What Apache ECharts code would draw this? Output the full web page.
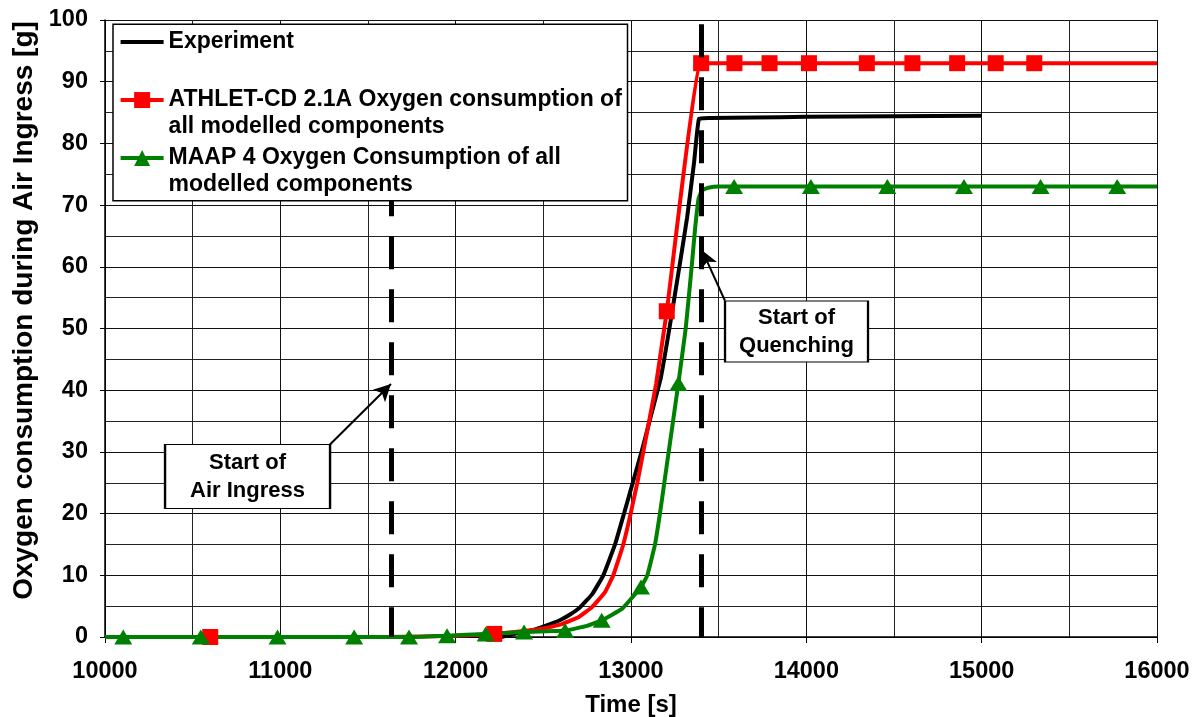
<!DOCTYPE html>
<html>
<head>
<meta charset="utf-8">
<title>Oxygen consumption during Air Ingress</title>
<script src="https://cdn.jsdelivr.net/npm/echarts@6.0.0/dist/echarts.min.js"></script>
<style>
	body { margin: 0; background: #fff; }
	#chart { width: 1196px; height: 717px; }
</style>
</head>
<body>
<div id="chart"></div>
<script>
var fontName = '"Liberation Sans", Arial, sans-serif'

var seriesNames = [
	'Experiment',
	'ATHLET-CD 2.1A Oxygen consumption of\nall modelled components',
	'MAAP 4 Oxygen Consumption of all\nmodelled components',
]

// experiment (black)
var experimentTime = [11640, 11665, 11750, 12000, 12130, 12200, 12260, 12350, 12450, 12550, 12600, 12650, 12709, 12780, 12842, 12909, 12960, 13010, 13060, 13115, 13170, 13219, 13276, 13320, 13360, 13388, 13450, 13700, 14000, 14500, 15000]
var experimentValue = [0, -1.3, -1.2, -1.1, -1.0, -0.5, 0, 0.6, 1.2, 2.2, 2.8, 3.6, 4.8, 7.0, 10, 15, 20, 25, 30, 36, 42, 50, 60, 68, 77, 84, 84.1, 84.2, 84.3, 84.4, 84.5]

// ATHLET-CD (red squares)
var athletTime = [10000, 10600, 11000, 11600, 12000, 12220, 12400, 12500, 12595, 12700, 12776, 12850, 12899, 12956, 12998, 13036, 13070, 13100, 13143, 13204, 13400, 13590, 13790, 14015, 14345, 14605, 14860, 15080, 15300, 16000]
var athletValue = [0, 0, 0, 0, 0.2, 0.5, 1.0, 1.4, 2.0, 3.2, 4.8, 7.2, 10, 15, 20, 25, 30, 34.5, 41, 52.8, 93, 93, 93, 93, 93, 93, 93, 93, 93, 93]
var athletMarkers = [10600, 12220, 13204, 13400, 13590, 13790, 14015, 14345, 14605, 14860, 15080, 15300]

// MAAP 4 (green triangles)
var maapTime = [10000, 10104, 10546, 10984, 11421, 11734, 11951, 12171, 12390, 12624, 12750, 12833, 12950, 13057, 13093, 13137, 13165, 13190, 13215, 13270, 13312, 13346, 13365, 13385, 13405, 13440, 13500, 13588, 14026, 14462, 14899, 15336, 15773, 16000]
var maapValue = [0, 0, 0, 0, 0, 0, 0.2, 0.5, 0.8, 1.05, 1.8, 2.7, 4.6, 8.1, 10, 15, 20, 25, 30, 41.1, 50, 60, 66, 71, 72.4, 72.8, 73, 73, 73, 73, 73, 73, 73, 73]
var maapMarkers = [10104, 10546, 10984, 11421, 11734, 11951, 12171, 12390, 12624, 12833, 13057, 13270, 13588, 14026, 14462, 14899, 15336, 15773]

// annotations
var airIngressTime = 11630
var quenchingTime = 13400
var noteTexts = ['Start of\nAir Ingress', 'Start of\nQuenching']
var noteCenters = [[10813, 26.0], [13944, 49.5]]
var arrowFrom = [[11283, 31.2], [13536, 54.5]]
var arrowTo = [[11631, 41.0], [13405, 62.7]]

function buildLineData(times, values, markers) {
	return times.map(function (t, i) {
		var point = { value: [t, values[i]] }
		if (markers.indexOf(t) == -1) point.symbol = 'none'
		return point
	})
}

function boldText(size) {
	return { fontFamily: fontName, fontWeight: 'bold', fontSize: size, color: '#000' }
}

// legend text is centred on its icon, so pad every entry to three lines
// with the first real line in the middle
function legendLabel(name) {
	var lines = name.split('\n')
	if (lines.length == 1) return '\n' + name + '\n'
	return '\n' + name
}

function drawChart(chartDom) {
	var myChart = echarts.init(chartDom)
	var dashStyle = { color: '#000', width: 5, type: [33, 20] }
	var arrowStyle = { color: '#000', width: 2, type: 'solid' }

	var option = {
		animation: false,
		backgroundColor: '#fff',
		grid: { left: 105, right: 39, top: 20, bottom: 80, outerBoundsMode: 'none' },
		legend: {
			orient: 'vertical',
			left: 118.6,
			top: 2.3,
			padding: 0,
			itemGap: -21.5,
			itemWidth: 43,
			itemHeight: 20,
			z: 20,
			selectedMode: false,
			formatter: legendLabel,
			lineStyle: { width: 4 },
			textStyle: Object.assign(boldText(23), { lineHeight: 26.5 }),
			data: [
				{ name: seriesNames[0], icon: 'path://M0,0H43V4H0Z' },
				{ name: seriesNames[1] },
				{ name: seriesNames[2] },
			],
		},
		// legend frame, drawn over the markLines (their z is 5)
		graphic: [
			{
				type: 'rect',
				z: 10,
				silent: true,
				shape: { x: 113, y: 24.3, width: 514.5, height: 176.4 },
				style: { fill: '#fff', stroke: '#000', lineWidth: 1.5 },
			},
		],
		xAxis: {
			type: 'value',
			min: 10000,
			max: 16000,
			interval: 1000,
			name: 'Time [s]',
			nameLocation: 'middle',
			nameGap: 56,
			nameTextStyle: boldText(24),
			axisLine: { lineStyle: { color: '#000', width: 1.5 } },
			axisTick: { show: true, length: 6, lineStyle: { color: '#000' } },
			axisLabel: Object.assign(boldText(23.5), {
				margin: 23,
				formatter: function (value) {
					return String(value)
				},
			}),
			splitLine: { show: true, lineStyle: { color: '#111', width: 1 } },
			minorTick: { show: false, splitNumber: 2 },
			minorSplitLine: { show: true, lineStyle: { color: '#222', width: 1 } },
		},
		yAxis: {
			type: 'value',
			min: 0,
			max: 100,
			interval: 10,
			name: 'Oxygen consumption during Air Ingress [g]',
			nameLocation: 'middle',
			nameGap: 67,
			nameTextStyle: Object.assign(boldText(28), { padding: [0, 0, 0, 36] }),
			axisLine: { show: true, lineStyle: { color: '#000', width: 1.5 } },
			axisTick: { show: true, length: 5, lineStyle: { color: '#000' } },
			axisLabel: Object.assign(boldText(23.5), { margin: 17 }),
			splitLine: { show: true, lineStyle: { color: '#111', width: 1 } },
			minorTick: { show: false, splitNumber: 2 },
			minorSplitLine: { show: true, lineStyle: { color: '#222', width: 1 } },
		},
		series: [
			{
				name: seriesNames[0],
				type: 'line',
				symbol: 'none',
				smooth: 0.1,
				silent: true,
				data: buildLineData(experimentTime, experimentValue, []),
				lineStyle: { color: '#000', width: 4 },
				itemStyle: { color: '#000' },
				markLine: {
					silent: true,
					symbol: ['none', 'none'],
					label: { show: false },
					data: [
						[{ coord: [airIngressTime, 99.3], lineStyle: dashStyle }, { coord: [airIngressTime, 0] }],
						[{ coord: [quenchingTime, 99.3], lineStyle: dashStyle }, { coord: [quenchingTime, 0] }],
						[
							{ coord: arrowFrom[0], lineStyle: arrowStyle },
							{ coord: arrowTo[0], symbol: 'arrow', symbolSize: [13, 17] },
						],
						[
							{ coord: arrowFrom[1], lineStyle: arrowStyle },
							{ coord: arrowTo[1], symbol: 'arrow', symbolSize: [13, 17] },
						],
					],
				},
				markPoint: {
					silent: true,
					symbol: 'rect',
					itemStyle: { color: '#fff', borderColor: '#000', borderWidth: 1.5 },
					label: Object.assign(boldText(22), {
						show: true,
						position: 'inside',
						lineHeight: 28,
						formatter: '{b}',
					}),
					data: [
						{ name: noteTexts[0], coord: noteCenters[0], symbolSize: [165, 64] },
						{ name: noteTexts[1], coord: noteCenters[1], symbolSize: [143, 61] },
					],
				},
			},
			{
				name: seriesNames[1],
				type: 'line',
				symbol: 'rect',
				symbolSize: 16,
				smooth: 0.1,
				silent: true,
				data: buildLineData(athletTime, athletValue, athletMarkers),
				lineStyle: { color: '#ff0000', width: 4 },
				itemStyle: { color: '#ff0000' },
			},
			{
				name: seriesNames[2],
				type: 'line',
				symbol: 'triangle',
				symbolSize: [18, 15],
				smooth: 0.1,
				silent: true,
				data: buildLineData(maapTime, maapValue, maapMarkers),
				lineStyle: { color: '#008000', width: 4 },
				itemStyle: { color: '#008000' },
			},
		],
	}

	option && myChart.setOption(option)
}

drawChart(document.getElementById('chart'))
</script>
</body>
</html>
